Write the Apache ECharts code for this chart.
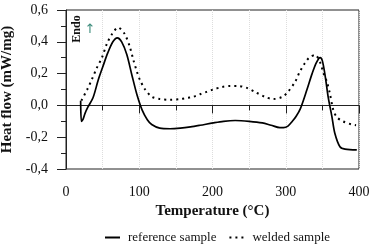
<!DOCTYPE html>
<html>
<head>
<meta charset="utf-8">
<script src="https://cdn.jsdelivr.net/npm/echarts@6/dist/echarts.min.js"></script>
<style>
  html, body { margin: 0; padding: 0; background: #fff; }
  #dsc { width: 377px; height: 245px; }
</style>
</head>
<body>
<div id="dsc"></div>
<script>
// reference sample (solid)
const refTemp = [20, 21, 23, 26, 30, 37, 44, 50, 57, 64, 70, 76, 83, 90, 97, 104, 111, 117, 128, 142,
  156, 170, 183, 201, 215, 231, 250, 268, 280, 292, 297, 303, 309, 314, 320, 329, 336, 342, 347, 350,
  354, 358, 363, 367, 374, 381, 397];
const refFlow = [0.03, -0.10, -0.09, -0.05, -0.01, 0.05, 0.16, 0.24, 0.33, 0.40, 0.425, 0.40, 0.32, 0.19, 0.065, -0.03, -0.09, -0.12, -0.143, -0.147,
  -0.143, -0.135, -0.125, -0.11, -0.10, -0.095, -0.10, -0.11, -0.125, -0.14, -0.14, -0.13, -0.10, -0.07, -0.02, 0.10, 0.20, 0.27, 0.30, 0.28,
  0.18, 0.05, -0.07, -0.175, -0.26, -0.275, -0.28];

// welded sample (dotted)
const weldTemp = [21, 29, 35, 42, 49, 56, 63, 71, 80, 87, 92, 97, 101, 108, 117, 128, 142, 156, 165, 173,
  183, 192, 201, 213, 224, 235, 247, 258, 272, 283, 295, 303, 313, 319, 326, 332, 340, 347, 351, 356,
  360, 365, 370, 378, 390, 396];
const weldFlow = [0.03, 0.10, 0.16, 0.235, 0.30, 0.39, 0.45, 0.49, 0.45, 0.37, 0.285, 0.21, 0.16, 0.10, 0.055, 0.04, 0.035, 0.04, 0.047, 0.053,
  0.07, 0.085, 0.10, 0.116, 0.122, 0.122, 0.11, 0.085, 0.053, 0.04, 0.053, 0.085, 0.15, 0.21, 0.265, 0.30, 0.317, 0.27, 0.21, 0.15,
  0.08, -0.03, -0.075, -0.10, -0.12, -0.125];

const seriesNames = ['reference sample', 'welded sample'];

const pairs = (xs, ys) => xs.map((x, i) => [x, ys[i]]);
const fmt = v => v.toFixed(1).replace('.', ',');

const font = 'Liberation Serif';
let myChart = echarts.init(document.getElementById('dsc'));
let option = {
  animation: false,
  grid: {
    left: 66, right: 18, top: 10, bottom: 76,
    containLabel: false, outerBoundsMode: 'none',
    show: true, borderColor: '#222', borderWidth: 1
  },
  legend: {
    left: 99, top: 226,
    itemWidth: 15, itemHeight: 12, itemGap: 12,
    // hide the symbol drawn in the middle of the legend line
    itemStyle: { color: 'rgba(0,0,0,0)', borderWidth: 0 },
    textStyle: { fontFamily: font, fontSize: 13, color: '#111', padding: [0, 0, 0, 3] },
    data: seriesNames
  },
  xAxis: {
    type: 'value',
    min: 0, max: 400, interval: 100,
    name: 'Temperature (°C)',
    nameLocation: 'middle', nameGap: 34,
    nameTextStyle: { fontFamily: font, fontSize: 15, fontWeight: 'bold', color: '#111' },
    axisLine: { lineStyle: { color: '#222', width: 1 } },
    axisTick: { show: true, length: 8, lineStyle: { color: '#222' } },
    minorTick: { show: true, splitNumber: 2, length: 5, lineStyle: { color: '#222' } },
    axisLabel: { fontFamily: font, fontSize: 14, color: '#111', margin: 16 },
    splitLine: { show: true, lineStyle: { color: '#ddd', type: 'dotted' } },
    minorSplitLine: { show: true, lineStyle: { color: '#ddd', type: 'dotted' } }
  },
  yAxis: {
    type: 'value',
    min: -0.4, max: 0.6, interval: 0.2,
    name: 'Heat flow (mW/mg)',
    nameLocation: 'middle', nameGap: 51,
    nameTextStyle: { fontFamily: font, fontSize: 15, fontWeight: 'bold', color: '#111' },
    axisLine: { show: true, lineStyle: { color: '#222', width: 1 } },
    axisTick: { show: true, length: 9, lineStyle: { color: '#222' } },
    minorTick: { show: true, splitNumber: 2, length: 5, lineStyle: { color: '#222' } },
    axisLabel: { fontFamily: font, fontSize: 14, color: '#111', margin: 18, formatter: fmt },
    splitLine: { show: false }
  },
  graphic: [
    {
      type: 'text', x: 77, y: 29, rotation: Math.PI / 2,
      style: { text: 'Endo', font: 'bold 12px "Liberation Serif"', fill: '#111', align: 'center', verticalAlign: 'middle' }
    },
    {
      type: 'text', x: 90, y: 30,
      style: { text: '↑', font: '13px "DejaVu Sans"', fill: '#3d8c7c', align: 'center', verticalAlign: 'middle' }
    }
  ],
  series: [
    {
      name: seriesNames[0],
      type: 'line',
      showSymbol: false,
      symbol: 'none',
      smooth: 0.3,
      lineStyle: { color: '#000', width: 1.7 },
      itemStyle: { color: '#000' },
      data: pairs(refTemp, refFlow)
    },
    {
      name: seriesNames[1],
      type: 'line',
      showSymbol: false,
      symbol: 'none',
      smooth: 0.3,
      lineStyle: { color: '#000', width: 2, type: [2, 4] },
      itemStyle: { color: '#000' },
      data: pairs(weldTemp, weldFlow)
    }
  ]
};
option && myChart.setOption(option);
</script>
</body>
</html>
